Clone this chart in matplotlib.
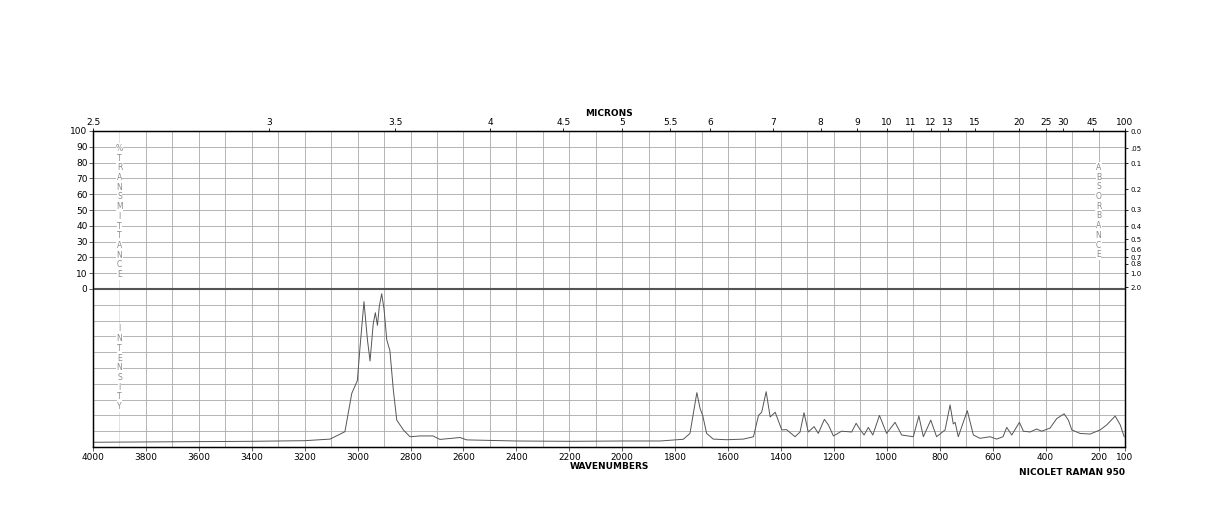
import matplotlib.pyplot as plt
import numpy as np

# Raman spectrum (wavenumber, intensity 0-100)
wavenumber = [4000, 3800, 3600, 3400, 3200, 3104, 3048, 3022, 3001, 2991, 2976, 2963, 2953,
              2941, 2933, 2925, 2918, 2909, 2900, 2890, 2878, 2865, 2852, 2827, 2802, 2764,
              2715, 2689, 2613, 2588, 2400, 2200, 2000, 1857, 1769, 1744, 1718, 1706, 1696,
              1681, 1656, 1605, 1542, 1504, 1485, 1473, 1456, 1441, 1422, 1397, 1379, 1347,
              1328, 1313, 1297, 1275, 1259, 1236, 1221, 1202, 1171, 1133, 1116, 1101, 1086,
              1070, 1053, 1028, 1001, 969, 944, 900, 879, 862, 834, 812, 780, 761, 749, 742,
              730, 696, 673, 648, 610, 585, 561, 547, 528, 499, 484, 459, 434, 415, 383, 358,
              330, 314, 301, 270, 232, 194, 169, 137, 118, 103]
intensity = [3.0, 3.2, 3.4, 3.6, 4.0, 5.0, 9.7, 34, 42, 63, 92, 68, 54.4,
             78, 85, 77, 89, 97, 87, 68, 61, 36, 17, 10.8, 6.5, 7,
             7, 4.8, 6, 4.5, 3.8, 3.6, 3.8, 3.8, 4.9, 8.6, 34.4, 24.5, 20,
             8.6, 5, 4.6, 5, 6.5, 20, 22, 35, 19, 22, 10.8, 11, 6.5,
             9.5, 21.7, 9.5, 12.9, 8.6, 17.5, 14, 7, 10, 9.5, 15, 11, 7.6,
             12.4, 7.6, 20, 8.6, 15.6, 7.6, 6.5, 19.6, 6.5, 17, 6.5, 10.8, 26.6, 14.6, 15.6,
             6.5, 23, 7.6, 5.5, 6.5, 5, 6.5, 12.4, 7.6, 15.6, 10, 9.5, 11.4, 10, 12, 18,
             21, 17, 10.8, 8.6, 8.2, 10.8, 14, 19.6, 14, 6.5]

bottom_ticks = list(range(4000, 199, -200)) + [100]
micron_labels = ['2.5', '3', '3.5', '4', '4.5', '5', '5.5', '6', '7', '8', '9', '10', '11',
                 '12', '13', '15', '20', '25', '30', '45', '100']
absorbance_labels = ['0.0', '.05', '0.1', '0.2', '0.3', '0.4', '0.5', '0.6', '0.7', '0.8',
                     '1.0', '2.0']


def main():
    fig = plt.figure(figsize=(12.24, 5.28), dpi=100)
    ax = fig.add_axes([93 / 1224, 81 / 528, 1032 / 1224, 316 / 528])
    ax.set_xlim(4000, 100)
    ax.set_ylim(0, 200)

    # Grid
    for w in range(4000, 99, -100):
        col = '#dddddd' if w == 3900 else '#a8a8a8'
        ax.axvline(w, color=col, lw=0.6, zorder=0)
    for y in range(0, 201, 10):
        ax.axhline(y, color='#a8a8a8', lw=0.6, zorder=0)
    ax.axhline(100, color='#555555', lw=1.5, zorder=1)
    for s in ax.spines.values():
        s.set_color('#444444')
        s.set_linewidth(1.0)

    ax.plot(wavenumber, intensity, color='#555555', lw=0.7, zorder=3)

    fs = 6.5
    ax.set_xticks(bottom_ticks)
    ax.set_xticklabels([str(t) for t in bottom_ticks], fontsize=fs)
    ax.set_yticks(range(100, 201, 10))
    ax.set_yticklabels([str(v) for v in range(0, 101, 10)], fontsize=fs)
    ax.tick_params(length=3, width=0.6, pad=1, color='#444444')

    top = ax.twiny()
    top.set_xlim(4000, 100)
    top.set_xticks([1e4 / float(m) for m in micron_labels])
    top.set_xticklabels(micron_labels, fontsize=fs)
    top.tick_params(length=2, width=0.6, pad=1)
    top.set_xlabel('MICRONS', fontsize=6.5, fontweight='bold', labelpad=1)

    right = ax.twinx()
    right.set_ylim(0, 200)
    right.set_yticks([100 + 100 * 10 ** (-float(a)) for a in absorbance_labels])
    right.set_yticklabels(absorbance_labels, fontsize=5)
    right.tick_params(length=2, width=0.6, pad=2)

    ax.set_xlabel('WAVENUMBERS', fontsize=6.5, fontweight='bold', labelpad=0)
    fig.text(1125 / 1224, 60 / 528, 'NICOLET RAMAN 950', fontsize=6.5,
             fontweight='bold', ha='right', va='top')

    box = dict(facecolor='white', edgecolor='none', pad=0.3)
    step = 6.15
    kw = dict(fontsize=5.5, color='#8a8a8a', ha='center', va='center', bbox=box, zorder=2)
    for i, ch in enumerate('%TRANSMITTANCE'):
        ax.text(3900, 189 - i * step, ch, **kw)
    for i, ch in enumerate('INTENSITY'):
        ax.text(3900, 74.7 - i * step, ch, **kw)
    for i, ch in enumerate('ABSORBANCE'):
        ax.text(200, 177 - i * step, ch, **kw)

    plt.savefig('out.png', dpi=100)
    plt.close()


if __name__ == "__main__":
    main()
